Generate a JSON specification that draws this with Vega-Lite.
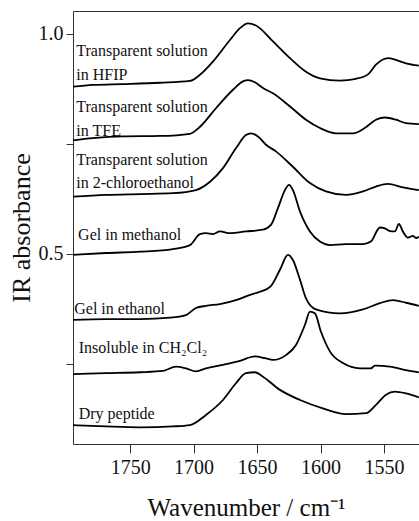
{
  "$schema": "https://vega.github.io/schema/vega-lite/v6.json",
  "width": 346,
  "height": 433,
  "autosize": {"type": "none"},
  "padding": {"left": 73, "top": 11, "right": 0, "bottom": 77},
  "background": "white",
  "config": {
    "view": {"stroke": null},
    "font": "Liberation Serif",
    "axis": {
      "grid": false,
      "domainColor": "#333",
      "tickColor": "#333",
      "labelColor": "#111",
      "titleColor": "#111",
      "labelFont": "Liberation Serif",
      "titleFont": "Liberation Serif",
      "titleFontWeight": "normal"
    }
  },
  "datasets": {
    "spectra": [
      {"sample": "HFIP", "wavenumber": 1795, "absorbance": 0.880},
      {"sample": "HFIP", "wavenumber": 1779.3, "absorbance": 0.884},
      {"sample": "HFIP", "wavenumber": 1755.6, "absorbance": 0.886},
      {"sample": "HFIP", "wavenumber": 1726.5, "absorbance": 0.889},
      {"sample": "HFIP", "wavenumber": 1702.9, "absorbance": 0.893},
      {"sample": "HFIP", "wavenumber": 1695.0, "absorbance": 0.907},
      {"sample": "HFIP", "wavenumber": 1684.8, "absorbance": 0.937},
      {"sample": "HFIP", "wavenumber": 1671.4, "absorbance": 0.986},
      {"sample": "HFIP", "wavenumber": 1663.5, "absorbance": 1.013},
      {"sample": "HFIP", "wavenumber": 1657.2, "absorbance": 1.024},
      {"sample": "HFIP", "wavenumber": 1650.9, "absorbance": 1.019},
      {"sample": "HFIP", "wavenumber": 1637.5, "absorbance": 0.983},
      {"sample": "HFIP", "wavenumber": 1624.1, "absorbance": 0.945},
      {"sample": "HFIP", "wavenumber": 1611.5, "absorbance": 0.914},
      {"sample": "HFIP", "wavenumber": 1600.5, "absorbance": 0.899},
      {"sample": "HFIP", "wavenumber": 1584.8, "absorbance": 0.894},
      {"sample": "HFIP", "wavenumber": 1572.2, "absorbance": 0.898},
      {"sample": "HFIP", "wavenumber": 1562.7, "absorbance": 0.908},
      {"sample": "HFIP", "wavenumber": 1556.4, "absorbance": 0.930},
      {"sample": "HFIP", "wavenumber": 1547.0, "absorbance": 0.945},
      {"sample": "HFIP", "wavenumber": 1540.7, "absorbance": 0.941},
      {"sample": "HFIP", "wavenumber": 1532.8, "absorbance": 0.933},
      {"sample": "HFIP", "wavenumber": 1522.6, "absorbance": 0.928},

      {"sample": "TFE", "wavenumber": 1795, "absorbance": 0.758},
      {"sample": "TFE", "wavenumber": 1779.3, "absorbance": 0.763},
      {"sample": "TFE", "wavenumber": 1755.6, "absorbance": 0.767},
      {"sample": "TFE", "wavenumber": 1726.5, "absorbance": 0.768},
      {"sample": "TFE", "wavenumber": 1702.9, "absorbance": 0.773},
      {"sample": "TFE", "wavenumber": 1695.0, "absorbance": 0.789},
      {"sample": "TFE", "wavenumber": 1682.4, "absorbance": 0.831},
      {"sample": "TFE", "wavenumber": 1669.0, "absorbance": 0.873},
      {"sample": "TFE", "wavenumber": 1661.1, "absorbance": 0.892},
      {"sample": "TFE", "wavenumber": 1657.2, "absorbance": 0.895},
      {"sample": "TFE", "wavenumber": 1651.7, "absorbance": 0.890},
      {"sample": "TFE", "wavenumber": 1645.4, "absorbance": 0.877},
      {"sample": "TFE", "wavenumber": 1637.5, "absorbance": 0.865},
      {"sample": "TFE", "wavenumber": 1624.1, "absorbance": 0.835},
      {"sample": "TFE", "wavenumber": 1611.5, "absorbance": 0.805},
      {"sample": "TFE", "wavenumber": 1600.5, "absorbance": 0.786},
      {"sample": "TFE", "wavenumber": 1587.9, "absorbance": 0.774},
      {"sample": "TFE", "wavenumber": 1574.5, "absorbance": 0.774},
      {"sample": "TFE", "wavenumber": 1564.3, "absorbance": 0.788},
      {"sample": "TFE", "wavenumber": 1556.4, "absorbance": 0.805},
      {"sample": "TFE", "wavenumber": 1549.3, "absorbance": 0.810},
      {"sample": "TFE", "wavenumber": 1540.7, "absorbance": 0.805},
      {"sample": "TFE", "wavenumber": 1532.8, "absorbance": 0.797},
      {"sample": "TFE", "wavenumber": 1522.6, "absorbance": 0.795},

      {"sample": "2-chloroethanol", "wavenumber": 1795, "absorbance": 0.630},
      {"sample": "2-chloroethanol", "wavenumber": 1769.0, "absorbance": 0.634},
      {"sample": "2-chloroethanol", "wavenumber": 1742.2, "absorbance": 0.636},
      {"sample": "2-chloroethanol", "wavenumber": 1716.3, "absorbance": 0.638},
      {"sample": "2-chloroethanol", "wavenumber": 1698.2, "absorbance": 0.645},
      {"sample": "2-chloroethanol", "wavenumber": 1687.1, "absorbance": 0.664},
      {"sample": "2-chloroethanol", "wavenumber": 1676.9, "absorbance": 0.695},
      {"sample": "2-chloroethanol", "wavenumber": 1666.7, "absorbance": 0.740},
      {"sample": "2-chloroethanol", "wavenumber": 1658.8, "absorbance": 0.770},
      {"sample": "2-chloroethanol", "wavenumber": 1654.8, "absorbance": 0.774},
      {"sample": "2-chloroethanol", "wavenumber": 1649.3, "absorbance": 0.767},
      {"sample": "2-chloroethanol", "wavenumber": 1643.0, "absorbance": 0.748},
      {"sample": "2-chloroethanol", "wavenumber": 1635.2, "absorbance": 0.733},
      {"sample": "2-chloroethanol", "wavenumber": 1621.8, "absorbance": 0.698},
      {"sample": "2-chloroethanol", "wavenumber": 1608.4, "absorbance": 0.661},
      {"sample": "2-chloroethanol", "wavenumber": 1595.8, "absorbance": 0.642},
      {"sample": "2-chloroethanol", "wavenumber": 1580.0, "absorbance": 0.634},
      {"sample": "2-chloroethanol", "wavenumber": 1566.6, "absorbance": 0.642},
      {"sample": "2-chloroethanol", "wavenumber": 1556.4, "absorbance": 0.653},
      {"sample": "2-chloroethanol", "wavenumber": 1547.0, "absorbance": 0.659},
      {"sample": "2-chloroethanol", "wavenumber": 1535.2, "absorbance": 0.651},
      {"sample": "2-chloroethanol", "wavenumber": 1522.6, "absorbance": 0.645},

      {"sample": "methanol", "wavenumber": 1795, "absorbance": 0.498},
      {"sample": "methanol", "wavenumber": 1769.0, "absorbance": 0.502},
      {"sample": "methanol", "wavenumber": 1742.2, "absorbance": 0.505},
      {"sample": "methanol", "wavenumber": 1716.3, "absorbance": 0.511},
      {"sample": "methanol", "wavenumber": 1702.9, "absorbance": 0.520},
      {"sample": "methanol", "wavenumber": 1695.0, "absorbance": 0.545},
      {"sample": "methanol", "wavenumber": 1690.3, "absorbance": 0.547},
      {"sample": "methanol", "wavenumber": 1684.8, "absorbance": 0.545},
      {"sample": "methanol", "wavenumber": 1679.3, "absorbance": 0.551},
      {"sample": "methanol", "wavenumber": 1671.4, "absorbance": 0.547},
      {"sample": "methanol", "wavenumber": 1658.8, "absorbance": 0.551},
      {"sample": "methanol", "wavenumber": 1645.4, "absorbance": 0.555},
      {"sample": "methanol", "wavenumber": 1639.1, "absorbance": 0.566},
      {"sample": "methanol", "wavenumber": 1633.6, "absorbance": 0.604},
      {"sample": "methanol", "wavenumber": 1628.1, "absorbance": 0.645},
      {"sample": "methanol", "wavenumber": 1624.9, "absorbance": 0.657},
      {"sample": "methanol", "wavenumber": 1621.8, "absorbance": 0.645},
      {"sample": "methanol", "wavenumber": 1616.2, "absorbance": 0.596},
      {"sample": "methanol", "wavenumber": 1608.4, "absorbance": 0.551},
      {"sample": "methanol", "wavenumber": 1600.5, "absorbance": 0.528},
      {"sample": "methanol", "wavenumber": 1592.6, "absorbance": 0.520},
      {"sample": "methanol", "wavenumber": 1580.0, "absorbance": 0.522},
      {"sample": "methanol", "wavenumber": 1566.6, "absorbance": 0.522},
      {"sample": "methanol", "wavenumber": 1560.4, "absorbance": 0.528},
      {"sample": "methanol", "wavenumber": 1553.3, "absorbance": 0.560},
      {"sample": "methanol", "wavenumber": 1549.3, "absorbance": 0.558},
      {"sample": "methanol", "wavenumber": 1545.4, "absorbance": 0.552},
      {"sample": "methanol", "wavenumber": 1541.5, "absorbance": 0.551},
      {"sample": "methanol", "wavenumber": 1538.3, "absorbance": 0.568},
      {"sample": "methanol", "wavenumber": 1535.2, "absorbance": 0.551},
      {"sample": "methanol", "wavenumber": 1531.2, "absorbance": 0.537},
      {"sample": "methanol", "wavenumber": 1527.3, "absorbance": 0.541},
      {"sample": "methanol", "wavenumber": 1524.9, "absorbance": 0.536},
      {"sample": "methanol", "wavenumber": 1522.6, "absorbance": 0.539},

      {"sample": "ethanol", "wavenumber": 1795, "absorbance": 0.350},
      {"sample": "ethanol", "wavenumber": 1769.0, "absorbance": 0.352},
      {"sample": "ethanol", "wavenumber": 1742.2, "absorbance": 0.352},
      {"sample": "ethanol", "wavenumber": 1718.6, "absorbance": 0.355},
      {"sample": "ethanol", "wavenumber": 1706.0, "absorbance": 0.361},
      {"sample": "ethanol", "wavenumber": 1698.2, "absorbance": 0.377},
      {"sample": "ethanol", "wavenumber": 1690.3, "absorbance": 0.382},
      {"sample": "ethanol", "wavenumber": 1679.3, "absorbance": 0.386},
      {"sample": "ethanol", "wavenumber": 1666.7, "absorbance": 0.395},
      {"sample": "ethanol", "wavenumber": 1655.6, "absorbance": 0.407},
      {"sample": "ethanol", "wavenumber": 1647.8, "absorbance": 0.414},
      {"sample": "ethanol", "wavenumber": 1639.1, "absorbance": 0.427},
      {"sample": "ethanol", "wavenumber": 1632.0, "absorbance": 0.464},
      {"sample": "ethanol", "wavenumber": 1625.7, "absorbance": 0.498},
      {"sample": "ethanol", "wavenumber": 1621.8, "absorbance": 0.486},
      {"sample": "ethanol", "wavenumber": 1616.2, "absorbance": 0.441},
      {"sample": "ethanol", "wavenumber": 1611.5, "absorbance": 0.399},
      {"sample": "ethanol", "wavenumber": 1603.7, "absorbance": 0.374},
      {"sample": "ethanol", "wavenumber": 1584.8, "absorbance": 0.365},
      {"sample": "ethanol", "wavenumber": 1566.6, "absorbance": 0.374},
      {"sample": "ethanol", "wavenumber": 1553.3, "absorbance": 0.388},
      {"sample": "ethanol", "wavenumber": 1543.0, "absorbance": 0.395},
      {"sample": "ethanol", "wavenumber": 1532.8, "absorbance": 0.389},
      {"sample": "ethanol", "wavenumber": 1522.6, "absorbance": 0.382},

      {"sample": "CH2Cl2", "wavenumber": 1795, "absorbance": 0.227},
      {"sample": "CH2Cl2", "wavenumber": 1769.0, "absorbance": 0.229},
      {"sample": "CH2Cl2", "wavenumber": 1742.2, "absorbance": 0.231},
      {"sample": "CH2Cl2", "wavenumber": 1724.1, "absorbance": 0.234},
      {"sample": "CH2Cl2", "wavenumber": 1713.9, "absorbance": 0.244},
      {"sample": "CH2Cl2", "wavenumber": 1706.0, "absorbance": 0.240},
      {"sample": "CH2Cl2", "wavenumber": 1698.2, "absorbance": 0.233},
      {"sample": "CH2Cl2", "wavenumber": 1690.3, "absorbance": 0.240},
      {"sample": "CH2Cl2", "wavenumber": 1676.9, "absorbance": 0.248},
      {"sample": "CH2Cl2", "wavenumber": 1663.5, "absorbance": 0.257},
      {"sample": "CH2Cl2", "wavenumber": 1651.7, "absorbance": 0.267},
      {"sample": "CH2Cl2", "wavenumber": 1643.8, "absorbance": 0.263},
      {"sample": "CH2Cl2", "wavenumber": 1637.5, "absorbance": 0.259},
      {"sample": "CH2Cl2", "wavenumber": 1627.3, "absorbance": 0.270},
      {"sample": "CH2Cl2", "wavenumber": 1619.4, "absorbance": 0.293},
      {"sample": "CH2Cl2", "wavenumber": 1612.3, "absorbance": 0.339},
      {"sample": "CH2Cl2", "wavenumber": 1608.4, "absorbance": 0.369},
      {"sample": "CH2Cl2", "wavenumber": 1604.5, "absorbance": 0.365},
      {"sample": "CH2Cl2", "wavenumber": 1599.7, "absorbance": 0.323},
      {"sample": "CH2Cl2", "wavenumber": 1592.6, "absorbance": 0.278},
      {"sample": "CH2Cl2", "wavenumber": 1582.4, "absorbance": 0.252},
      {"sample": "CH2Cl2", "wavenumber": 1569.0, "absorbance": 0.240},
      {"sample": "CH2Cl2", "wavenumber": 1560.4, "absorbance": 0.240},
      {"sample": "CH2Cl2", "wavenumber": 1557.2, "absorbance": 0.246},
      {"sample": "CH2Cl2", "wavenumber": 1545.4, "absorbance": 0.244},
      {"sample": "CH2Cl2", "wavenumber": 1532.8, "absorbance": 0.236},
      {"sample": "CH2Cl2", "wavenumber": 1522.6, "absorbance": 0.231},

      {"sample": "dry", "wavenumber": 1795, "absorbance": 0.111},
      {"sample": "dry", "wavenumber": 1769.0, "absorbance": 0.108},
      {"sample": "dry", "wavenumber": 1742.2, "absorbance": 0.106},
      {"sample": "dry", "wavenumber": 1716.3, "absorbance": 0.108},
      {"sample": "dry", "wavenumber": 1702.9, "absorbance": 0.111},
      {"sample": "dry", "wavenumber": 1690.3, "absorbance": 0.134},
      {"sample": "dry", "wavenumber": 1676.9, "absorbance": 0.168},
      {"sample": "dry", "wavenumber": 1666.7, "absorbance": 0.206},
      {"sample": "dry", "wavenumber": 1658.8, "absorbance": 0.229},
      {"sample": "dry", "wavenumber": 1651.7, "absorbance": 0.231},
      {"sample": "dry", "wavenumber": 1645.4, "absorbance": 0.221},
      {"sample": "dry", "wavenumber": 1632.0, "absorbance": 0.191},
      {"sample": "dry", "wavenumber": 1616.2, "absorbance": 0.168},
      {"sample": "dry", "wavenumber": 1598.2, "absorbance": 0.149},
      {"sample": "dry", "wavenumber": 1580.0, "absorbance": 0.136},
      {"sample": "dry", "wavenumber": 1564.3, "absorbance": 0.138},
      {"sample": "dry", "wavenumber": 1556.4, "absorbance": 0.157},
      {"sample": "dry", "wavenumber": 1548.5, "absorbance": 0.180},
      {"sample": "dry", "wavenumber": 1541.5, "absorbance": 0.187},
      {"sample": "dry", "wavenumber": 1532.8, "absorbance": 0.183},
      {"sample": "dry", "wavenumber": 1522.6, "absorbance": 0.174}
    ],
    "labels": [
      {"label": "Transparent solution", "wavenumber": 1792.4, "absorbance": 0.960},
      {"label": "in HFIP", "wavenumber": 1792.4, "absorbance": 0.907},
      {"label": "Transparent solution", "wavenumber": 1792.4, "absorbance": 0.833},
      {"label": "in TFE", "wavenumber": 1792.4, "absorbance": 0.780},
      {"label": "Transparent solution", "wavenumber": 1792.4, "absorbance": 0.714},
      {"label": "in 2-chloroethanol", "wavenumber": 1792.4, "absorbance": 0.661},
      {"label": "Gel in methanol", "wavenumber": 1791, "absorbance": 0.543},
      {"label": "Gel in ethanol", "wavenumber": 1794, "absorbance": 0.374},
      {"label": "Insoluble in CH₂Cl₂", "wavenumber": 1790.5, "absorbance": 0.286},
      {"label": "Dry peptide", "wavenumber": 1790.5, "absorbance": 0.136}
    ]
  },
  "layer": [
    {
      "data": {"name": "spectra"},
      "mark": {"type": "line", "interpolate": "monotone", "color": "black", "strokeWidth": 1.8, "clip": true},
      "encoding": {
        "x": {
          "field": "wavenumber",
          "type": "quantitative",
          "scale": {"domain": [1522.5, 1795], "reverse": true, "nice": false, "zero": false},
          "axis": {
            "values": [1550, 1600, 1650, 1700, 1750],
            "format": "d",
            "labelFontSize": 20,
            "tickSize": 9,
            "labelPadding": 4,
            "title": "Wavenumber / cm⁻¹",
            "titleFontSize": 25,
            "titlePadding": 18
          }
        },
        "y": {
          "field": "absorbance",
          "type": "quantitative",
          "title": "IR absorbance",
          "scale": {"domain": [0.068, 1.052], "nice": false, "zero": false},
          "axis": {
            "values": [0.25, 0.5, 0.75, 1.0],
            "labelExpr": "datum.value == 0.5 || datum.value == 1 ? format(datum.value, '.1f') : ''",
            "labelFontSize": 20,
            "tickSize": 7,
            "labelPadding": 3,
            "title": "IR absorbance",
            "titleFontSize": 26,
            "titlePadding": 4
          }
        },
        "detail": {"field": "sample"}
      }
    },
    {
      "data": {"name": "labels"},
      "mark": {"type": "text", "align": "left", "baseline": "middle", "fontSize": 16, "font": "Liberation Serif", "color": "#111"},
      "encoding": {
        "x": {
          "field": "wavenumber",
          "type": "quantitative",
          "axis": {"orient": "top", "labels": false, "ticks": false, "title": null, "domain": true}
        },
        "y": {"field": "absorbance", "type": "quantitative", "title": "IR absorbance"},
        "text": {"field": "label"}
      }
    }
  ],
  "resolve": {"axis": {"x": "independent"}}
}
